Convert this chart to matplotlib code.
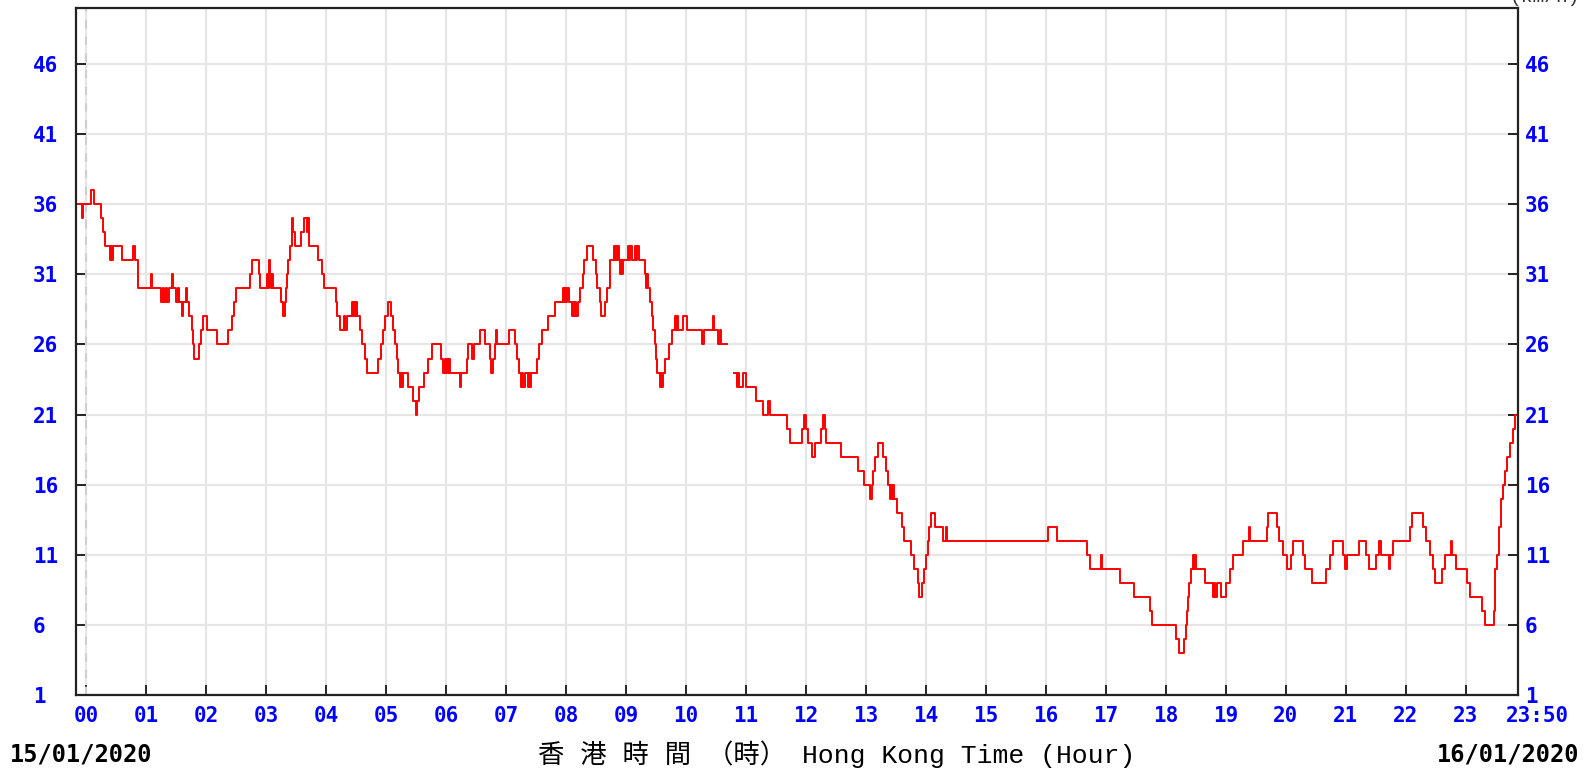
import numpy as np
import matplotlib.pyplot as plt

# wind speed (km/h), minute of day where each value starts (steps)
minutes = [-10, -4, -3, 5, 8, 15, 17, 19, 24, 25, 26, 27, 36, 47, 49, 52, 65, 66,
           75, 77, 78, 80, 81, 83, 86, 87, 90, 92, 93, 96, 97, 100, 101, 103, 106,
           107, 108, 113, 115, 117, 121, 131, 142, 146, 148, 150, 164, 166, 173,
           174, 181, 182, 183, 184, 185, 186, 187, 195, 197, 199, 200, 201, 202,
           204, 206, 207, 209, 215, 218, 221, 222, 223, 232, 236, 238, 250, 251,
           254, 258, 259, 261, 266, 267, 268, 269, 270, 271, 274, 276, 279, 281,
           292, 295, 297, 299, 302, 305, 307, 309, 311, 312, 314, 315, 316, 317,
           322, 327, 330, 331, 333, 335, 338, 342, 346, 355, 357, 359, 360, 361,
           362, 363, 364, 374, 375, 381, 382, 386, 388, 394, 399, 404, 405, 407,
           409, 410, 411, 423, 429, 431, 433, 435, 436, 437, 439, 442, 443, 444,
           445, 451, 453, 456, 462, 469, 477, 478, 479, 480, 481, 483, 486, 487,
           488, 489, 490, 492, 494, 497, 498, 501, 507, 510, 511, 514, 515, 519,
           521, 524, 528, 529, 530, 531, 532, 533, 534, 535, 536, 537, 542, 543,
           544, 546, 549, 550, 551, 553, 559, 560, 561, 562, 564, 566, 567, 569,
           570, 571, 574, 575, 576, 577, 579, 583, 586, 589, 590, 591, 592, 597,
           601, 616, 618, 627, 628, 632, 634, 635, 641,
           648, 651, 652, 653, 657, 660, 670, 677, 682, 684, 701, 704, 716, 718,
           720, 722, 726, 729, 735, 737, 739, 740, 755, 772, 778, 784, 786, 787,
           789, 792, 797, 800, 802, 804, 805, 806, 807, 808, 811, 816, 818, 825,
           828, 832, 833, 836, 838, 840, 842, 843, 845, 849, 857, 860, 861, 962,
           971, 1001, 1004, 1015, 1016, 1034, 1048, 1064, 1066, 1090, 1093, 1098,
           1100, 1101, 1102, 1103, 1105, 1107, 1108, 1109, 1110, 1119, 1127, 1128,
           1129, 1131, 1135, 1140, 1144, 1147, 1157, 1163, 1164, 1181, 1182, 1191,
           1193, 1197, 1201, 1205, 1207, 1217, 1219, 1226, 1240, 1244, 1247, 1257,
           1259, 1261, 1273, 1280, 1283, 1290, 1293, 1295, 1303, 1304, 1307, 1324,
           1326, 1337, 1340, 1344, 1347, 1349, 1356, 1359, 1365, 1366, 1370, 1381,
           1384, 1396, 1399, 1408, 1409, 1411, 1413, 1415, 1417, 1419, 1421, 1424,
           1427, 1429, 1431]
speed = [36, 35, 36, 37, 36, 35, 34, 33, 32, 33, 32, 33, 32, 33, 32, 30, 31, 30,
         29, 30, 29, 30, 29, 30, 31, 30, 29, 30, 29, 28, 29, 30, 29, 28, 27,
         26, 25, 26, 27, 28, 27, 26, 27, 28, 29, 30, 31, 32, 31,
         30, 31, 30, 32, 31, 30, 31, 30, 29, 28, 29, 30, 31, 32,
         33, 35, 34, 33, 34, 35, 34, 35, 33, 32, 31, 30, 29, 28,
         27, 28, 27, 28, 29, 28, 29, 28, 29, 28, 27, 26, 25, 24,
         25, 26, 27, 28, 29, 28, 27, 26, 25, 24, 23, 24, 23, 24,
         23, 22, 21, 22, 23, 23, 24, 25, 26, 25, 24, 25, 24, 25,
         24, 25, 24, 23, 24, 25, 26, 25, 26, 27, 26, 25, 24, 25,
         26, 27, 26, 27, 26, 25, 24, 23, 24, 23, 24, 23, 24, 23,
         24, 25, 26, 27, 28, 29, 30, 29, 30, 29, 30, 29, 28, 29,
         28, 29, 28, 29, 30, 31, 32, 33, 32, 31, 30, 29, 28, 29,
         30, 32, 33, 32, 33, 32, 33, 32, 31, 32, 31, 32, 33, 32,
         33, 32, 33, 32, 33, 32, 31, 30, 31, 30, 29, 28, 27, 26,
         25, 24, 23, 24, 23, 24, 25, 26, 27, 28, 27, 28, 27, 28,
         27, 26, 27, 28, 27, 26, 27, 26, np.nan,
         24, 23, 24, 23, 24, 23, 22, 21, 22, 21, 20, 19, 20, 21,
         20, 19, 18, 19, 20, 21, 20, 19, 18, 17, 16, 15, 16, 17,
         18, 19, 18, 17, 16, 15, 16, 15, 16, 15, 14, 13, 12, 11,
         10, 9, 8, 9, 10, 11, 12, 13, 14, 13, 12, 13, 12, 13,
         12, 11, 10, 11, 10, 9, 8, 7, 6, 5, 4, 5,
         6, 7, 8, 9, 10, 11, 10, 11, 10, 9, 8, 9,
         8, 9, 8, 9, 10, 11, 12, 13, 12, 13, 14, 13,
         12, 11, 10, 11, 12, 11, 10, 9, 10, 11, 12, 11,
         10, 11, 12, 11, 10, 11, 12, 11, 10, 11, 12, 13,
         14, 13, 12, 11, 10, 9, 10, 11, 12, 11, 10, 9,
         8, 7, 6, 7, 10, 11, 13, 15, 16, 17, 18, 19,
         20, 21, 21]

hour_labels = ["%02d" % h for h in range(24)]
y_ticks = [1, 6, 11, 16, 21, 26, 31, 36, 41, 46]

mono = ['Liberation Mono', 'Noto Sans CJK TC']
blue = '#0000ff'

fig = plt.figure(figsize=(15.91, 7.73), dpi=100)
ax = fig.add_axes([76 / 1591, 78 / 773, 1442 / 1591, 687 / 773])

ax.plot(minutes, speed, drawstyle='steps-post', color='#ff0000', lw=1.4)

ax.set_xlim(-10, 1432)
ax.set_ylim(1, 50)

ax.set_xticks([h * 60 for h in range(24)])
ax.set_xticklabels(hour_labels)
ax.set_yticks(y_ticks)
ax.grid(True, color='#e6e6e6', lw=1.6)
ax.set_axisbelow(True)
ax.axvline(0, color='#cfcfcf', lw=1.5, ls=(0, (4, 4)), zorder=1)

for s in ax.spines.values():
    s.set_color('#222222')
    s.set_linewidth(1.6)

ax.tick_params(axis='x', direction='in', length=7, width=1.4, pad=8,
               colors='#222222', labelcolor=blue, labelsize=15)
ax.tick_params(axis='y', direction='in', length=7, width=1.4, left=True,
               right=True, labelleft=True, labelright=True, pad=5,
               colors='#222222', labelcolor=blue, labelsize=15)
for lab in ax.get_xticklabels() + ax.get_yticklabels():
    lab.set_fontfamily('DejaVu Sans Mono')
    lab.set_fontweight('bold')
# left labels start near x=40 px, left aligned
for t in ax.yaxis.get_major_ticks():
    t.label1.set_horizontalalignment('left')
    t.label1.set_x(-36 / 1442)

ax.text(1451, -0.03, "23:50", transform=ax.get_xaxis_transform(),
        ha='center', va='center', color=blue, fontsize=15,
        fontweight='bold', family='DejaVu Sans Mono')

fig.text(10 / 1591, 1 - 754 / 773, "15/01/2020", ha='left', va='center',
         fontsize=17, fontweight='bold', family='DejaVu Sans Mono')
fig.text(1579 / 1591, 1 - 754 / 773, "16/01/2020", ha='right', va='center',
         fontsize=17, fontweight='bold', family='DejaVu Sans Mono')
fig.text(837 / 1591, 1 - 754 / 773, "香 港 時 間 （時） Hong Kong Time (Hour)",
         ha='center', va='center', fontsize=19, family=mono)
fig.text(1580 / 1591, 1 + 2 / 773, "(km/h)", ha='right', va='center',
         fontsize=14, family=mono, color='#333333')

fig.savefig("out.png", dpi=100)
